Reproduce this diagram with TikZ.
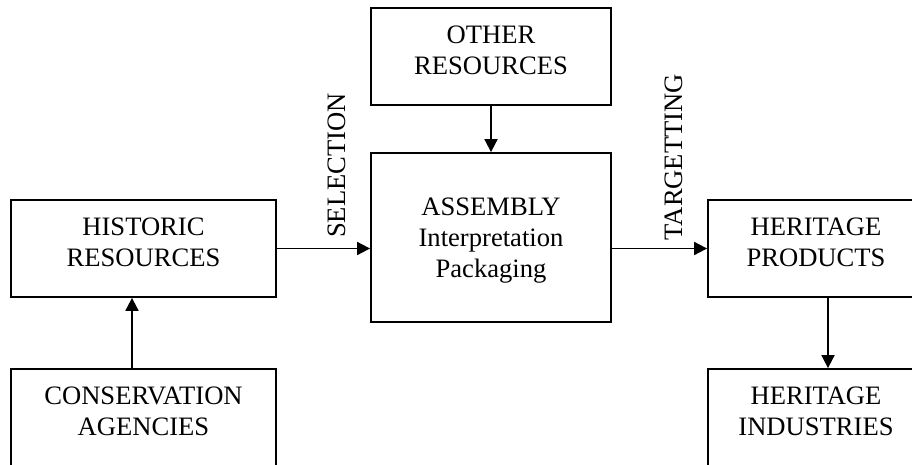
\documentclass[tikz,border=0pt]{standalone}
\usepackage{fontspec}
\setmainfont{Liberation Serif}
\usetikzlibrary{arrows.meta}

\begin{document}
\begin{tikzpicture}[
    x=1pt, y=1pt,
    node distance=169pt,
    every node/.style={font=\fontsize{26.6}{31}\selectfont},
    box/.style={rectangle, draw, line width=1.8pt, minimum width=265pt, minimum height=97pt, align=center, inner sep=0pt, text depth=12pt},
    bigbox/.style={box, minimum width=240pt, minimum height=169pt, text depth=0pt},
    rbox/.style={box, minimum width=216pt},
    vlabel/.style={rotate=90, anchor=base west, inner sep=0pt},
    arrow/.style={-{Triangle[length=13pt, width=13pt]}, line width=1.8pt}
]
    \useasboundingbox (0,0) rectangle (912,464);
    \clip (0,0) rectangle (912,464);

    % Resources on the left
    \node[box] (hist) at (143.5,215.5) {HISTORIC\\RESOURCES};
    \node[box, below of=hist] (cons) {CONSERVATION\\AGENCIES};

    % Assembly stage
    \node[bigbox] (asm) at (491,226.5) {ASSEMBLY\\Interpretation\\Packaging};
    \node[box, minimum width=240pt, above of=asm, node distance=181pt] (other) {OTHER\\RESOURCES};

    % Products on the right
    \node[rbox] (prod) at (816,215.5) {HERITAGE\\PRODUCTS};
    \node[rbox, below of=prod] (ind) {HERITAGE\\INDUSTRIES};

    % Arrows
    \draw[arrow] ([xshift=-11.5pt]cons.north) -- ([xshift=-11.5pt]hist.south);
    \draw[arrow] (hist.east) -- (hist.east -| asm.west);
    \draw[arrow] (other.south) -- (asm.north);
    \draw[arrow] (asm.east |- prod.west) -- (prod.west);
    \draw[arrow] ([xshift=12pt]prod.south) -- ([xshift=12pt]ind.north);

    % Arrow labels
    \node[vlabel] (sel) at ([xshift=69pt, yshift=10.5pt]hist.east) {SELECTION};
    \node[vlabel] (tgt) at ([xshift=71pt, yshift=8pt]asm.east |- prod.west) {TARGETTING};

\end{tikzpicture}
\end{document}
